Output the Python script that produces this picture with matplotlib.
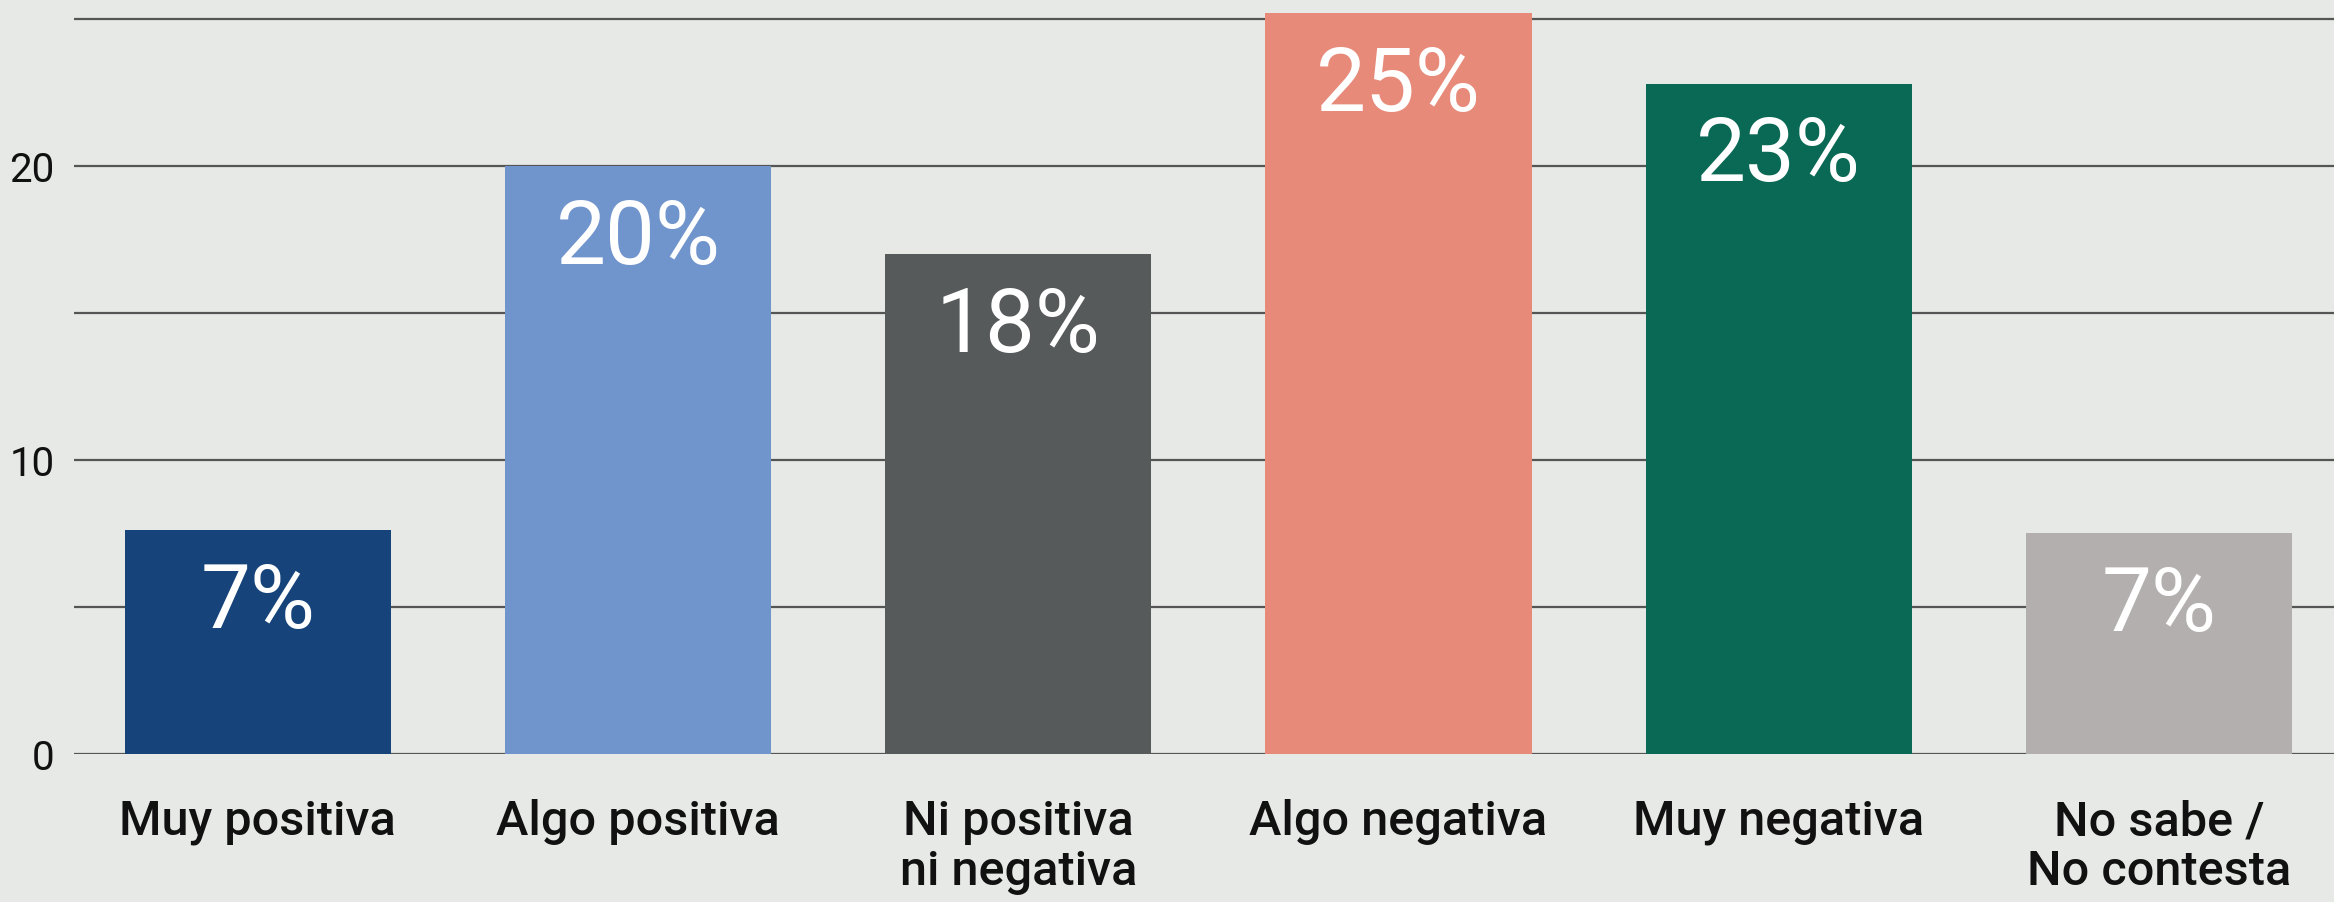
import matplotlib
matplotlib.use("Agg")
import matplotlib.pyplot as plt

categories = ["Muy positiva", "Algo positiva", "Ni positiva\nni negativa",
              "Algo negativa", "Muy negativa", "No sabe /\nNo contesta"]
values = [7.6, 20.0, 17.0, 25.2, 22.8, 7.5]
value_labels = ["7%", "20%", "18%", "25%", "23%", "7%"]
colors = ["#15437A", "#7094CC", "#575A5B", "#E88A7A", "#0A6955", "#B3AFAE"]
yticks = [0, 5, 10, 15, 20, 25]
ytick_labels = ["0", "", "10", "", "20", ""]

bg = "#E7E9E6"
plt.rcParams['font.family'] = ['Roboto', 'DejaVu Sans']

fig = plt.figure(figsize=(23.34, 9.03), dpi=100)
fig.patch.set_facecolor(bg)
ax = fig.add_axes([0.0317, 0.164, 0.9683, 0.836])
ax.set_facecolor(bg)

x = list(range(len(categories)))
bars = ax.bar(x, values, width=0.7, color=colors, zorder=3)

for b, lab in zip(bars, value_labels):
    ax.annotate(lab, (b.get_x() + b.get_width() / 2, b.get_height()),
                xytext=(0, -52), textcoords="offset points",
                ha="center", va="center", color="white", fontsize=64,
                zorder=4)

ax.set_xlim(-0.483, 5.46)
ax.set_ylim(0, 25.68)
ax.set_yticks(yticks)
ax.set_yticklabels(ytick_labels, fontsize=29, color="#111111")
ax.set_xticks(x)
ax.set_xticklabels(categories, fontsize=35, fontweight="medium",
                   color="#111111", linespacing=1.1)
ax.tick_params(axis="x", length=0, pad=32)
ax.tick_params(axis="y", length=0, pad=14)
ax.grid(axis="y", color="#555555", linewidth=1.6, zorder=1)
for s in ax.spines.values():
    s.set_visible(False)

fig.savefig("out.png", dpi=100, facecolor=bg)
